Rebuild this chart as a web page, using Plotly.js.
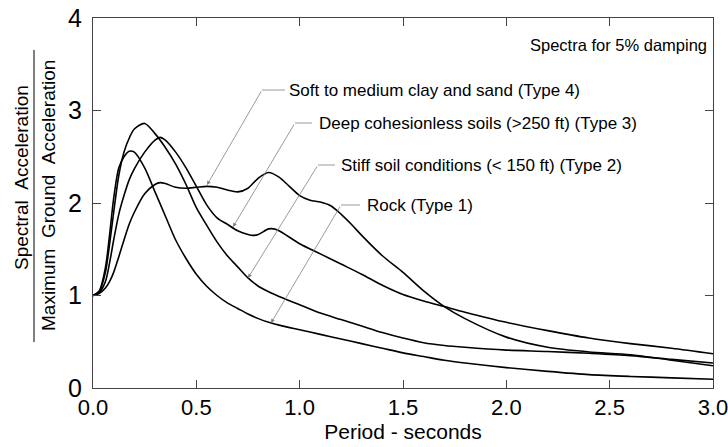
<!DOCTYPE html>
<html>
<head>
<meta charset="utf-8">
<script src="https://cdn.plot.ly/plotly-3.0.1.min.js"></script>
<style>html,body{margin:0;padding:0;background:#fff;}#chart{width:728px;height:447px;}</style>
</head>
<body>
<div id="chart"></div>
<script>
// Period (seconds) and Spectral Acceleration / Max Ground Acceleration
const periodRock = [0, 0.03, 0.06, 0.08, 0.1, 0.125, 0.15, 0.175, 0.2, 0.25, 0.3, 0.35, 0.4, 0.45, 0.5, 0.55, 0.6, 0.65, 0.7, 0.75, 0.8, 0.85, 0.9, 1.0, 1.1, 1.2, 1.3, 1.4, 1.5, 1.6, 1.7, 1.8, 2.0, 2.2, 2.4, 2.6, 2.8, 3.0];
const saRock     = [1.0, 1.05, 1.3, 1.65, 2.05, 2.38, 2.5, 2.56, 2.55, 2.38, 2.12, 1.86, 1.6, 1.4, 1.23, 1.1, 1.0, 0.92, 0.86, 0.8, 0.75, 0.71, 0.68, 0.63, 0.58, 0.53, 0.48, 0.43, 0.38, 0.34, 0.3, 0.27, 0.22, 0.18, 0.145, 0.125, 0.11, 0.095];

const periodStiff = [0, 0.03, 0.06, 0.08, 0.1, 0.125, 0.15, 0.175, 0.2, 0.25, 0.3, 0.35, 0.4, 0.45, 0.5, 0.55, 0.6, 0.65, 0.7, 0.75, 0.8, 0.85, 0.9, 1.0, 1.1, 1.2, 1.3, 1.4, 1.5, 1.6, 1.7, 1.8, 2.0, 2.2, 2.4, 2.6, 2.8, 3.0];
const saStiff     = [1.0, 1.04, 1.25, 1.55, 1.9, 2.3, 2.55, 2.7, 2.8, 2.86, 2.75, 2.6, 2.42, 2.2, 1.95, 1.76, 1.58, 1.43, 1.31, 1.19, 1.1, 1.04, 0.99, 0.9, 0.81, 0.74, 0.67, 0.6, 0.54, 0.49, 0.46, 0.44, 0.41, 0.395, 0.375, 0.35, 0.31, 0.27];

const periodDeep = [0, 0.03, 0.06, 0.08, 0.1, 0.125, 0.15, 0.175, 0.2, 0.25, 0.3, 0.325, 0.35, 0.4, 0.45, 0.5, 0.55, 0.6, 0.65, 0.7, 0.75, 0.775, 0.8, 0.85, 0.875, 0.9, 1.0, 1.1, 1.2, 1.3, 1.4, 1.5, 1.6, 1.7, 1.8, 2.0, 2.2, 2.4, 2.6, 2.8, 3.0];
const saDeep     = [1.0, 1.03, 1.15, 1.35, 1.6, 1.88, 2.08, 2.25, 2.37, 2.55, 2.68, 2.71, 2.68, 2.55, 2.38, 2.18, 1.98, 1.84, 1.77, 1.7, 1.66, 1.65, 1.66, 1.72, 1.72, 1.7, 1.56, 1.45, 1.34, 1.23, 1.11, 1.01, 0.94, 0.88, 0.82, 0.71, 0.62, 0.54, 0.48, 0.43, 0.37];

const periodSoft = [0, 0.03, 0.06, 0.08, 0.1, 0.125, 0.15, 0.175, 0.2, 0.25, 0.3, 0.325, 0.35, 0.4, 0.45, 0.5, 0.55, 0.6, 0.65, 0.7, 0.75, 0.8, 0.85, 0.9, 0.95, 1.0, 1.05, 1.1, 1.15, 1.2, 1.25, 1.3, 1.4, 1.5, 1.6, 1.7, 1.8, 2.0, 2.2, 2.4, 2.6, 2.8, 3.0];
const saSoft     = [1.0, 1.02, 1.08, 1.15, 1.25, 1.42, 1.6, 1.77, 1.9, 2.1, 2.2, 2.22, 2.21, 2.17, 2.16, 2.17, 2.18, 2.17, 2.14, 2.12, 2.16, 2.27, 2.33, 2.28, 2.18, 2.08, 2.03, 2.01, 1.97, 1.88, 1.77, 1.65, 1.43, 1.25, 1.05, 0.88, 0.75, 0.55, 0.44, 0.39, 0.36, 0.3, 0.24];

const xTickVals = [0, 0.5, 1.0, 1.5, 2.0, 2.5, 3.0];
const xTickText = ['0.0', '0.5', '1.0', '1.5', '2.0', '2.5', '3.0'];
const yTickVals = [0, 1, 2, 3, 4];
const yTickText = ['0', '1', '2', '3', '4'];

const labelSoft  = 'Soft to medium clay and sand (Type 4)';
const labelDeep  = 'Deep cohesionless soils (>250 ft) (Type 3)';
const labelStiff = 'Stiff soil conditions (< 150 ft) (Type 2)';
const labelRock  = 'Rock (Type 1)';
const noteText   = 'Spectra for 5% damping';

const FONT = 'Liberation Sans, Arial, Helvetica, sans-serif';
const lineStyle = {color: '#000', width: 1.6, shape: 'spline', smoothing: 0.8};

const traces = [
  {x: periodRock, y: saRock, mode: 'lines', line: lineStyle, name: labelRock},
  {x: periodStiff, y: saStiff, mode: 'lines', line: lineStyle, name: labelStiff},
  {x: periodDeep, y: saDeep, mode: 'lines', line: lineStyle, name: labelDeep},
  {x: periodSoft, y: saSoft, mode: 'lines', line: lineStyle, name: labelSoft}
];

// pixel helpers for layout-only elements (plot area: x 93..713, y 18..388)
const L = 93, R = 713, T = 18, B = 388;
const px2x = p => (p - L) / (R - L) * 3;
const py2y = p => (B - p) / (B - T) * 4;
const px2paper = p => (p - L) / (R - L);
const py2paper = p => (B - p) / (B - T);

const callouts = [
  {text: labelSoft,  tip: [207, 185], bend: [262, 90],  hEnd: 285, tx: 288},
  {text: labelDeep,  tip: [233, 227], bend: [295, 123], hEnd: 312, tx: 318},
  {text: labelStiff, tip: [248, 278], bend: [318, 165], hEnd: 335, tx: 340},
  {text: labelRock,  tip: [271, 323], bend: [341, 205], hEnd: 360, tx: 366}
];

const annotations = [];
const shapes = [];
callouts.forEach(c => {
  annotations.push({
    x: px2x(c.tip[0]), y: py2y(c.tip[1]), xref: 'x', yref: 'y',
    ax: c.bend[0] - c.tip[0], ay: c.bend[1] - c.tip[1],
    text: '', showarrow: true, arrowhead: 2, arrowsize: 1.0, arrowwidth: 0.8,
    arrowcolor: '#808080', standoff: 0
  });
  shapes.push({
    type: 'line', xref: 'x', yref: 'y',
    x0: px2x(c.bend[0]), x1: px2x(c.hEnd), y0: py2y(c.bend[1]), y1: py2y(c.bend[1]),
    line: {color: '#808080', width: 0.8}
  });
  annotations.push({
    x: px2x(c.tx), y: py2y(c.bend[1]), xref: 'x', yref: 'y',
    xanchor: 'left', yanchor: 'middle', text: c.text, showarrow: false,
    font: {family: FONT, size: 17, color: '#000'}, borderpad: 0
  });
});

annotations.push({
  x: px2paper(708), y: py2paper(45), xref: 'paper', yref: 'paper',
  xanchor: 'right', yanchor: 'middle', text: noteText, showarrow: false,
  font: {family: FONT, size: 16.5, color: '#000'}, borderpad: 0
});

// y-axis title as a fraction
annotations.push({
  x: px2paper(21), y: py2paper(178), xref: 'paper', yref: 'paper',
  xanchor: 'center', yanchor: 'middle', textangle: -90, showarrow: false,
  text: 'Spectral\u00a0\u00a0Acceleration',
  font: {family: FONT, size: 19, color: '#000'}, borderpad: 0
});
annotations.push({
  x: px2paper(48), y: py2paper(196), xref: 'paper', yref: 'paper',
  xanchor: 'center', yanchor: 'middle', textangle: -90, showarrow: false,
  text: 'Maximum\u00a0\u00a0Ground\u00a0\u00a0Acceleration',
  font: {family: FONT, size: 19, color: '#000'}, borderpad: 0
});
shapes.push({
  type: 'line', xref: 'paper', yref: 'paper',
  x0: px2paper(34), x1: px2paper(34), y0: py2paper(50), y1: py2paper(342),
  line: {color: '#000', width: 1}
});

const layout = {
  width: 728, height: 447,
  margin: {l: L, r: 728 - R, t: T, b: 447 - B},
  paper_bgcolor: '#fff', plot_bgcolor: '#fff',
  showlegend: false,
  xaxis: {
    range: [0, 3], tickvals: xTickVals, ticktext: xTickText,
    ticks: 'inside', ticklen: 8, tickcolor: '#444', tickwidth: 1,
    showline: true, linecolor: '#444', linewidth: 1, mirror: 'ticks',
    showgrid: false, zeroline: false,
    tickfont: {family: FONT, size: 22, color: '#000'},
    ticklabelstandoff: 0, ticklabeloverflow: 'allow',
    title: {text: 'Period - seconds', font: {family: FONT, size: 21, color: '#000'}, standoff: 2}
  },
  yaxis: {
    range: [0, 4], tickvals: yTickVals, ticktext: yTickText,
    ticks: 'inside', ticklen: 8, tickcolor: '#444', tickwidth: 1,
    showline: true, linecolor: '#444', linewidth: 1, mirror: 'ticks',
    showgrid: false, zeroline: false,
    tickfont: {family: FONT, size: 25, color: '#000'},
    ticklabelstandoff: 5, ticklabeloverflow: 'allow'
  },
  annotations: annotations,
  shapes: shapes
};

Plotly.newPlot('chart', traces, layout, {displayModeBar: false, staticPlot: true});
</script>
</body>
</html>
